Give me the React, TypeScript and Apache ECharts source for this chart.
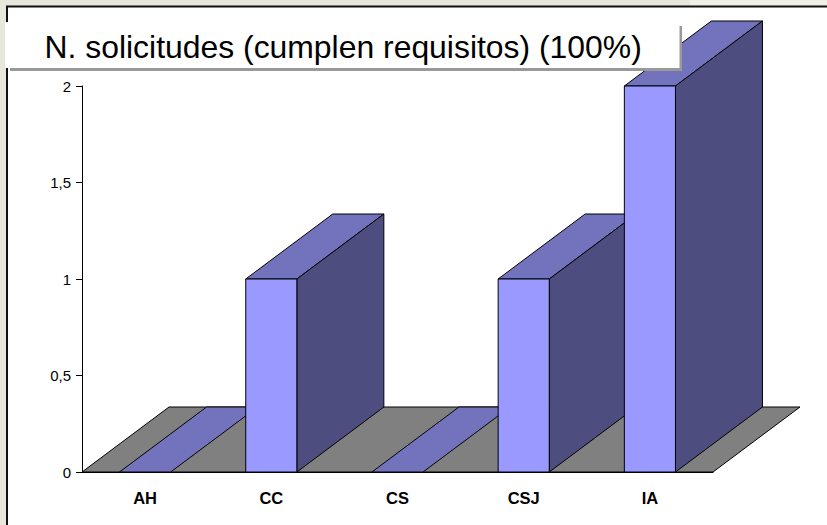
import React, { useEffect, useRef } from "react";
import * as echarts from "echarts";

const titleText = "N. solicitudes (cumplen requisitos) (100%)";
const categories = ["AH", "CC", "CS", "CSJ", "IA"];
const values = [0, 1, 0, 1, 2];
const yTicks = { min: 0, max: 2, interval: 0.5 };

const DX = 87;
const DY = -65;
const BAR_RATIO = 0.405;

const FRONT = "#9999FF";
const TOP = "#7373BD";
const SIDE = "#4D4D7F";
const FLOOR = "#808080";
const LINE = { stroke: "#000", lineWidth: 1 };

function poly(points: number[][], fill: string) {
  return { type: "polygon", shape: { points }, style: { fill, ...LINE } };
}

export default function App() {
  const ref = useRef<HTMLDivElement>(null);
  useEffect(() => {
    const chart = echarts.init(ref.current!, null, { renderer: "svg" });
    chart.setOption({
      animation: false,
      backgroundColor: "#E7E7DB",
      grid: { left: 82, top: 86, width: 631, height: 386, containLabel: false },
      xAxis: {
        type: "category",
        data: categories,
        z: 5,
        axisLine: { lineStyle: { color: "#000", width: 1 } },
        axisTick: { show: false },
        axisLabel: { margin: 17, fontFamily: "Liberation Sans", fontSize: 16.5, fontWeight: "bold", color: "#000" },
      },
      yAxis: {
        type: "value",
        ...yTicks,
        z: 5,
        axisLine: { show: true, lineStyle: { color: "#000", width: 1 } },
        axisTick: { show: true, length: 6, lineStyle: { color: "#000", width: 1 } },
        splitLine: { show: false },
        axisLabel: {
          margin: 11,
          fontFamily: "Liberation Sans",
          fontSize: 15,
          color: "#000",
          formatter: (v: number) => String(v).replace(".", ","),
        },
      },
      graphic: [
        { type: "rect", z: 0, shape: { x: 690, y: 0, width: 137, height: 6 }, style: { fill: "#F0F0E8" } },
        { type: "rect", z: 0, shape: { x: 7, y: 6.5, width: 830, height: 530 }, style: { fill: "#fff", stroke: "#111", lineWidth: 2 } },
        { type: "rect", z: 10, shape: { x: 10, y: 26, width: 672, height: 45 }, style: { fill: "#999" } },
        { type: "rect", z: 11, shape: { x: 5, y: 22, width: 674.5, height: 46 }, style: { fill: "#fff" } },
        { type: "text", z: 12, x: 44.5, y: 47, style: { text: titleText, fill: "#000", font: "31.9px 'Liberation Sans'", textVerticalAlign: "middle" } },
      ],
      series: [
        {
          type: "custom",
          z: 1,
          data: [[0, 0]],
          silent: true,
          renderItem: (_p: any, api: any) => {
            const band = api.size([1, 0])[0];
            const o = api.coord([0, 0]);
            const l = o[0] - band / 2;
            const r = l + band * categories.length;
            return poly([[l, o[1]], [r, o[1]], [r + DX, o[1] + DY], [l + DX, o[1] + DY]], FLOOR);
          },
        },
        {
          type: "custom",
          z: 2,
          silent: true,
          clip: false,
          data: values.map((v, i) => [i, v]),
          renderItem: (_p: any, api: any) => {
            const i = api.value(0);
            const v = api.value(1);
            const band = api.size([1, 0])[0];
            const w = band * BAR_RATIO;
            const base = api.coord([i, 0]);
            const top = api.coord([i, v]);
            const l = base[0] - w / 2;
            const r = base[0] + w / 2;
            const children: any[] = [
              poly([[l, top[1]], [r, top[1]], [r + DX, top[1] + DY], [l + DX, top[1] + DY]], TOP),
            ];
            if (v > 0) {
              children.push(poly([[r, base[1]], [r + DX, base[1] + DY], [r + DX, top[1] + DY], [r, top[1]]], SIDE));
              children.push({ type: "rect", shape: { x: l, y: top[1], width: w, height: base[1] - top[1] }, style: { fill: FRONT, ...LINE } });
            }
            return { type: "group", children };
          },
        },
      ],
    });
    return () => chart.dispose();
  }, []);
  return <div ref={ref} style={{ position: "absolute", left: 0, top: 0, width: 827, height: 525 }} />;
}
